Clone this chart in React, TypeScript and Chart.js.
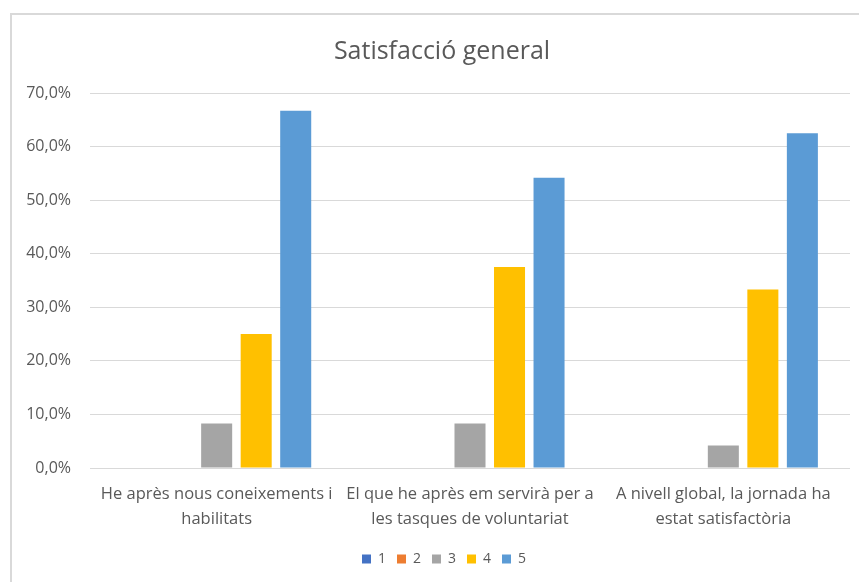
import React, { useEffect, useRef } from 'react';
import { Chart, registerables } from 'chart.js';
Chart.register(...registerables);

const titleText = 'Satisfacció general';
const categories: string[][] = [
  ['He après nous coneixements i', 'habilitats'],
  ['El que he après em servirà per a', 'les tasques de voluntariat'],
  ['A nivell global, la jornada ha', 'estat satisfactòria'],
];
const seriesLabels = ['1', '2', '3', '4', '5'];
const series1 = [0, 0, 0];
const series2 = [0, 0, 0];
const series3 = [8.3, 8.3, 4.2];
const series4 = [25.0, 37.5, 33.3];
const series5 = [66.7, 54.2, 62.5];
const seriesColors = ['#4472C4', '#ED7D31', '#A5A5A5', '#FFC000', '#5B9BD5'];
const yMin = 0;
const yMax = 70;
const yStep = 10;

const FONT = '"Open Sans", Lato, sans-serif';
const TEXT = '#595959';
const GRID = '#d9d9d9';

const shiftBoxes = {
  id: 'shiftBoxes',
  afterLayout(chart: any) {
    const t = chart.titleBlock;
    if (t) { t.left += 17; t.right += 17; }
    const l = chart.legend;
    if (l) { l.left += 19; l.right += 19; }
  },
};

export default function App() {
  const ref = useRef<HTMLCanvasElement | null>(null);
  useEffect(() => {
    if (!ref.current) return;
    const allSeries = [series1, series2, series3, series4, series5];
    const chart = new Chart(ref.current, {
      type: 'bar',
      data: {
        labels: categories,
        datasets: allSeries.map((d, i) => ({
          label: seriesLabels[i],
          data: d,
          backgroundColor: seriesColors[i],
          borderWidth: 0,
          categoryPercentage: 0.78,
          barPercentage: 0.785,
        })),
      },
      options: {
        animation: false,
        responsive: false,
        devicePixelRatio: 1,
        layout: { padding: { left: 0, right: 9, top: 0, bottom: 6 } },
        plugins: {
          tooltip: { enabled: false },
          title: {
            display: true,
            text: titleText,
            color: TEXT,
            font: { family: FONT, size: 25, weight: 'normal', lineHeight: 1.2 },
            padding: { top: 37, bottom: 26 },
          },
          legend: {
            position: 'bottom',
            labels: {
              color: TEXT,
              font: { family: FONT, size: 14 },
              boxWidth: 9,
              boxHeight: 9,
              padding: 11,
            },
          },
        },
        scales: {
          x: {
            grid: { display: false, drawTicks: false },
            border: { display: false },
            ticks: {
              color: TEXT,
              font: { family: FONT, size: 16.5, lineHeight: 1.5 },
              maxRotation: 0,
              autoSkip: false,
              padding: 14,
            },
            afterFit: (s: any) => { s.height = 73; },
          },
          y: {
            min: yMin,
            max: yMax,
            grid: { color: GRID, lineWidth: 1, drawTicks: false },
            border: { display: false },
            ticks: {
              stepSize: yStep,
              color: TEXT,
              padding: 19,
              font: { family: FONT, size: 16 },
              callback: (v: any) => Number(v).toFixed(1).replace('.', ',') + '%',
            },
            afterFit: (s: any) => { s.width = 90; },
          },
        },
      },
      plugins: [shiftBoxes],
    });
    return () => chart.destroy();
  }, []);

  return (
    <div style={{ position: 'fixed', left: 0, top: 0, width: 859, height: 582, background: '#fff' }}>
      <canvas ref={ref} width={859} height={582} style={{ position: 'absolute', left: 0, top: 0, width: 859, height: 582 }} />
      <div style={{ position: 'absolute', left: 10, top: 13, width: 860, height: 580, borderLeft: '2px solid #d9d9d9', borderTop: '2px solid #d9d9d9', pointerEvents: 'none' }} />
    </div>
  );
}
